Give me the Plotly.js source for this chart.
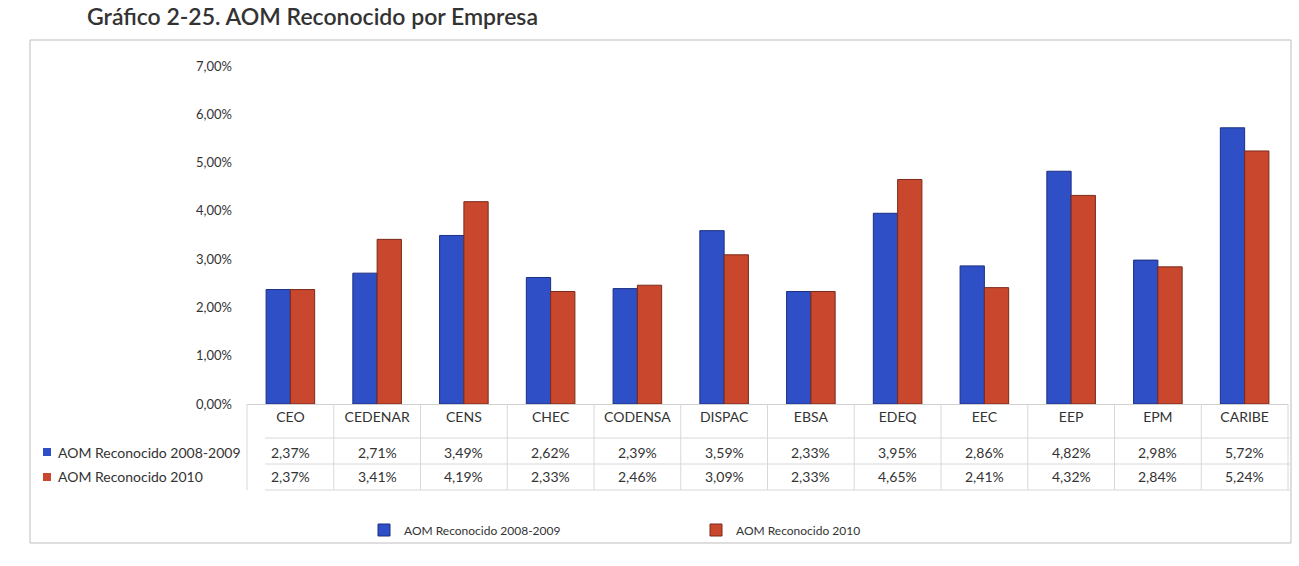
<!DOCTYPE html>
<html>
<head>
<meta charset="utf-8">
<script src="https://cdn.plot.ly/plotly-3.0.1.min.js"></script>
<style>html,body{margin:0;padding:0;background:#fff;}#chart{width:1299px;height:566px;}</style>
</head>
<body>
<div id="chart"></div>
<script>
const categories = ["CEO","CEDENAR","CENS","CHEC","CODENSA","DISPAC","EBSA","EDEQ","EEC","EEP","EPM","CARIBE"];
const seriesNames = ["AOM Reconocido 2008-2009","AOM Reconocido 2010"];
const aom20082009 = [2.37,2.71,3.49,2.62,2.39,3.59,2.33,3.95,2.86,4.82,2.98,5.72];
const aom2010 = [2.37,3.41,4.19,2.33,2.46,3.09,2.33,4.65,2.41,4.32,2.84,5.24];
const yTicks = [0,1,2,3,4,5,6,7];
const titleText = "Gráfico 2-25. AOM Reconocido por Empresa";

const colors = ["#2f4fc6","#c9472c"];
const fontFam = "Lato, 'Open Sans', sans-serif";
const fmt = v => v.toFixed(2).replace('.', ',') + '%';

const W = 1299, H = 566;
const mL = 247, mR = 11, mT = 66, mB = 162;
const pw = W - mL - mR, ph = H - mT - mB;
const px = X => (X - mL) / pw;
const py = Y => (H - mB - Y) / ph;

const traces = [aom20082009, aom2010].map((vals, i) => ({
  type: 'bar', name: seriesNames[i], x: categories, y: vals,
  marker: {color: colors[i], line: {color: i === 0 ? '#1c2f80' : '#7a2a1a', width: 1}},
  hoverinfo: 'x+y'
}));

const annotations = [];
const rowsY = [452, 477];
[aom20082009, aom2010].forEach((vals, r) => {
  vals.forEach((v, j) => annotations.push({
    x: categories[j], xref: 'x', y: py(rowsY[r]), yref: 'paper', yanchor: 'middle',
    text: fmt(v), showarrow: false, font: {family: fontFam, size: 14, color: '#333'}
  }));
  annotations.push({
    x: px(56), xref: 'paper', y: py(rowsY[r]), yref: 'paper', xanchor: 'left', yanchor: 'middle',
    text: seriesNames[r], showarrow: false, font: {family: fontFam, size: 14, color: '#333'}
  });
});
annotations.push({
  x: px(85), xref: 'paper', y: py(16), yref: 'paper', xanchor: 'left', yanchor: 'middle',
  text: titleText, showarrow: false, font: {family: fontFam, size: 23, color: '#333', weight: 600}
});

const shapes = [];
[438, 464, 490].forEach(Y => shapes.push({type: 'line', xref: 'paper', yref: 'paper',
  x0: px(265), x1: px(1290), y0: py(Y), y1: py(Y), line: {color: '#d8d8d8', width: 1}}));
for (let k = 0; k <= categories.length; k++) {
  const X = mL + pw * k / categories.length;
  shapes.push({type: 'line', xref: 'paper', yref: 'paper', x0: px(X), x1: px(X),
    y0: py(404), y1: py(490), line: {color: '#d8d8d8', width: 1}});
}
rowsY.forEach((Y, r) => shapes.push({type: 'rect', xref: 'paper', yref: 'paper',
  x0: px(43), x1: px(51), y0: py(Y - 4), y1: py(Y + 4),
  fillcolor: colors[r], line: {color: colors[r], width: 0}}));
shapes.push({type: 'rect', xref: 'paper', yref: 'paper', x0: px(30), x1: px(1291),
  y0: py(543), y1: py(40), line: {color: '#bdbdbd', width: 1}, fillcolor: 'rgba(0,0,0,0)'});

const layout = {
  width: W, height: H,
  margin: {l: mL, r: mR, t: mT, b: mB},
  paper_bgcolor: '#fff', plot_bgcolor: '#fff',
  separators: ',.',
  barmode: 'group', bargap: 0.44, bargroupgap: 0,
  font: {family: fontFam, size: 13, color: '#333'},
  xaxis: {type: 'category', showgrid: false, showline: true, linecolor: '#d0d0d0',
    ticks: '', tickfont: {family: fontFam, size: 14, color: '#333'}, fixedrange: true},
  yaxis: {range: [0, 7], tickmode: 'array', tickvals: yTicks, ticktext: yTicks.map(fmt),
    showgrid: false, zeroline: false, showline: false, ticks: '', ticklabelstandoff: 14,
    tickfont: {family: fontFam, size: 13, color: '#333'}, fixedrange: true},
  legend: {orientation: 'h', x: px(364), xanchor: 'left', y: py(530), yanchor: 'middle',
    bgcolor: 'rgba(0,0,0,0)',
    entrywidth: 287, entrywidthmode: 'pixels', font: {family: fontFam, size: 12, color: '#333'},
    itemwidth: 30},
  showlegend: true,
  annotations: annotations,
  shapes: shapes
};

Plotly.newPlot('chart', traces, layout, {displayModeBar: false, staticPlot: true});
</script>
</body>
</html>
